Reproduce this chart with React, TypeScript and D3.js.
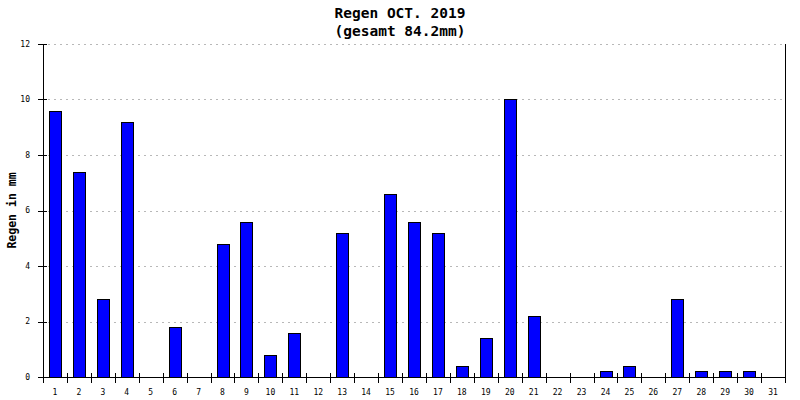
import * as d3 from "d3";
import React, { useEffect, useRef } from "react";

const days = d3.range(1, 32).map(String);
const rain = [
  9.6, 7.4, 2.8, 9.2, 0, 1.8, 0, 4.8, 5.6, 0.8, 1.6, 0, 5.2, 0, 6.6, 5.6, 5.2, 0.4, 1.4, 10, 2.2, 0, 0, 0.2, 0.4, 0, 2.8, 0.2, 0.2, 0.2, 0,
];
const yTicks = [0, 2, 4, 6, 8, 10, 12];
const title = ["Regen OCT. 2019", "(gesamt 84.2mm)"];
const yLabel = "Regen in mm";

const MONO = "'DejaVu Sans Mono', 'Liberation Mono', monospace";

export default function App() {
  const svgRef = useRef<SVGSVGElement | null>(null);

  useEffect(() => {
    const width = 800, height = 400;
    const margin = { top: 44, right: 15, bottom: 23, left: 43 };
    const w = width - margin.left - margin.right;
    const h = height - margin.top - margin.bottom;

    const svg = d3.select(svgRef.current);
    svg.selectAll("*").remove();
    svg.append("rect").attr("width", width).attr("height", height).attr("fill", "#fff");

    const x = d3.scaleBand<string>().domain(days).range([0, w]).paddingInner(0.5).paddingOuter(0.25);
    const xb = d3.scaleLinear().domain([0, days.length]).range([0, w]);
    const y = d3.scaleLinear().domain([0, 12]).range([h, 0]);

    const g = svg.append("g").attr("transform", `translate(${margin.left},${margin.top})`);

    // grid
    g.append("g").selectAll("line")
      .data(yTicks.filter(t => t > 0))
      .join("line")
      .attr("x1", 5).attr("x2", w)
      .attr("y1", d => Math.round(y(d)) + 0.5).attr("y2", d => Math.round(y(d)) + 0.5)
      .attr("stroke", "#b8b8b8")
      .attr("shape-rendering", "crispEdges")
      .attr("stroke-dasharray", "2,4");

    // bars
    g.append("g").selectAll("rect")
      .data(rain.map((v, i) => ({ day: days[i], v })).filter(d => d.v > 0))
      .join("rect")
      .attr("x", d => Math.round(x(d.day)!) + 0.5)
      .attr("width", Math.round(x.bandwidth()))
      .attr("y", d => Math.round(y(d.v)) + 0.5)
      .attr("height", d => Math.round(h - y(d.v)))
      .attr("fill", "#0000ff")
      .attr("stroke", "#000")
      .attr("stroke-width", 1);

    // axes lines
    const axis = g.append("g").attr("stroke", "#000").attr("shape-rendering", "crispEdges");
    axis.append("line").attr("x1", 0).attr("x2", 0).attr("y1", 0).attr("y2", h);
    axis.append("line").attr("x1", w).attr("x2", w).attr("y1", 0).attr("y2", h);
    axis.append("line").attr("x1", 0).attr("x2", w).attr("y1", h).attr("y2", h);

    axis.selectAll(".yt")
      .data(yTicks)
      .join("line")
      .attr("x1", -5).attr("x2", 4)
      .attr("y1", d => Math.round(y(d))).attr("y2", d => Math.round(y(d)));

    axis.selectAll(".xt")
      .data(d3.range(0, days.length + 1))
      .join("line")
      .attr("x1", d => Math.round(xb(d))).attr("x2", d => Math.round(xb(d)))
      .attr("y1", h - 4).attr("y2", h + 6);

    // tick labels
    g.append("g").selectAll("text")
      .data(yTicks)
      .join("text")
      .attr("x", -13)
      .attr("y", d => y(d))
      .attr("dy", "0.35em")
      .attr("text-anchor", "end")
      .attr("font-family", MONO)
      .attr("font-size", 8)
      .text(d => d);

    g.append("g").selectAll("text")
      .data(days)
      .join("text")
      .attr("x", d => x(d)! + x.bandwidth() / 2)
      .attr("y", h + 15)
      .attr("dy", "0.35em")
      .attr("text-anchor", "middle")
      .attr("font-family", MONO)
      .attr("font-size", 8)
      .text(d => d);

    // y label
    svg.append("text")
      .attr("transform", `translate(16,${margin.top + h / 2}) rotate(-90)`)
      .attr("text-anchor", "middle")
      .attr("font-family", MONO)
      .attr("font-weight", "bold")
      .attr("font-size", 11.5)
      .text(yLabel);

    // title
    svg.append("g").selectAll("text")
      .data(title)
      .join("text")
      .attr("x", width / 2)
      .attr("y", (_, i) => 18 + i * 18)
      .attr("text-anchor", "middle")
      .attr("font-family", MONO)
      .attr("font-weight", "bold")
      .attr("font-size", 14.5)
      .text(d => d);
  }, []);

  return (
    <div style={{ position: "absolute", left: 0, top: 0 }}>
      <svg ref={svgRef} width={800} height={400} style={{ display: "block" }} />
    </div>
  );
}
